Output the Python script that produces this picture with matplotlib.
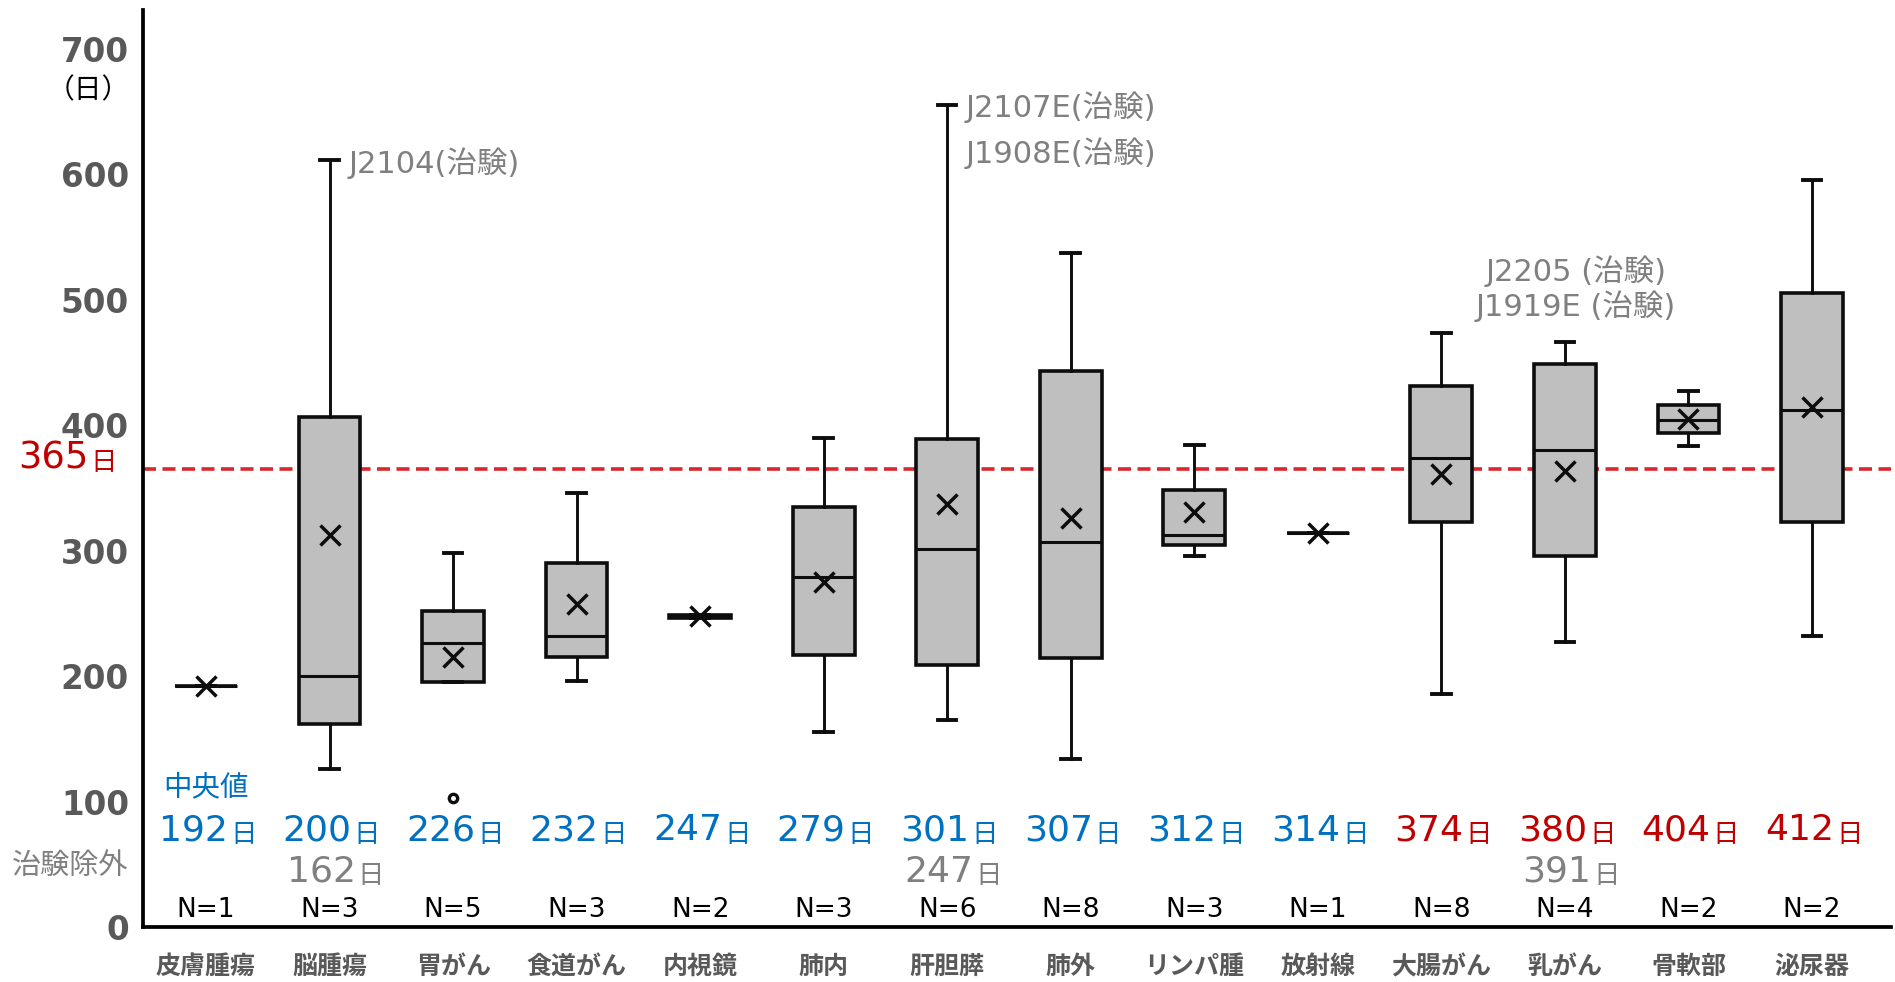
import matplotlib.pyplot as plt

plt.rcParams['font.family'] = ['DejaVu Sans', 'Noto Sans CJK JP']

categories = ['皮膚腫瘍', '脳腫瘍', '胃がん', '食道がん', '内視鏡', '肺内', '肝胆膵',
              '肺外', 'リンパ腫', '放射線', '大腸がん', '乳がん', '骨軟部', '泌尿器']
n_cases = [1, 3, 5, 3, 2, 3, 6, 8, 3, 1, 8, 4, 2, 2]
medians = [192, 200, 226, 232, 247, 279, 301, 307, 312, 314, 374, 380, 404, 412]
q1 = [192, 162, 195, 215, 246, 217, 209, 214, 304, 314, 323, 296, 394, 323]
q3 = [192, 406, 252, 290, 249, 335, 389, 443, 348, 314, 431, 449, 416, 505]
whislo = [192, 126, 195, 196, 246, 155, 165, 134, 296, 314, 186, 227, 383, 232]
whishi = [192, 611, 298, 346, 249, 390, 655, 537, 384, 314, 473, 466, 427, 595]
means = [192, 312, 215, 257, 248, 275, 337, 326, 331, 314, 361, 363, 405, 414]
fliers = [[], [], [103], [], [], [], [], [], [], [], [], [], [], []]
# median without clinical-trial patients
excl_medians = [None, 162, None, None, None, None, 247, None, None, None, None, 391, None, None]
target_days = 365

# trial notes: (box index, lines)
notes = [(1, ['J2104(治験)']),
         (6, ['J2107E(治験)', 'J1908E(治験)']),
         (11, ['J2205 (治験)', 'J1919E (治験)'])]

BLUE = '#0070c0'
RED = '#c00000'
GRAY = '#808080'
DARK = '#595959'
EDGE = '#0d0d0d'
JP = ['Noto Sans CJK JP']

W, H = 1895, 982
fig = plt.figure(figsize=(W / 100, H / 100), dpi=100)
ax = fig.add_axes([143 / W, 1 - 927 / H, (1891 - 143) / W, (927 - 10) / H])

positions = list(range(1, len(categories) + 1))
stats = []
for i in range(len(categories)):
    stats.append(dict(med=medians[i], q1=q1[i], q3=q3[i], whislo=whislo[i],
                      whishi=whishi[i], mean=means[i], fliers=fliers[i],
                      label=categories[i]))

ax.bxp(stats, positions=positions, widths=0.5, capwidths=0.15,
       showmeans=True, patch_artist=True,
       boxprops=dict(facecolor='#bfbfbf', edgecolor=EDGE, linewidth=2.6),
       whiskerprops=dict(color=EDGE, linewidth=2.1),
       capprops=dict(color=EDGE, linewidth=2.8),
       medianprops=dict(color=EDGE, linewidth=2.2),
       meanprops=dict(marker='x', markeredgecolor=EDGE, markersize=14,
                      markeredgewidth=2.5),
       flierprops=dict(marker='o', markerfacecolor='white', markeredgecolor=EDGE,
                       markersize=6, markeredgewidth=2.4))

ax.axhline(target_days, color='#d9272e', linewidth=2.6, linestyle=(0, (3.6, 1.8)), zorder=1)

ax.set_xlim(0.49, 14.64)
ax.set_ylim(0, 730.7)
for side in ['top', 'right']:
    ax.spines[side].set_visible(False)
for side in ['left', 'bottom']:
    ax.spines[side].set_linewidth(2.7)
    ax.spines[side].set_color('black')

ax.set_yticks(range(0, 701, 100))
ax.set_yticklabels([str(v) for v in range(0, 701, 100)], fontsize=23.5,
                   fontweight='bold', color=DARK)
ax.set_xticks(positions)
ax.set_xticklabels(categories, family=JP, fontsize=18, fontweight='bold', color=DARK)
ax.tick_params(axis='y', length=0, pad=10)
ax.tick_params(axis='x', length=0, pad=20)

# 365-day label left of the axis
ytr = ax.get_yaxis_transform()
day = ax.annotate('日', xy=(0, target_days), xycoords=ytr, xytext=(-19, -1),
                  textcoords='offset points', ha='right', va='baseline',
                  fontsize=19, color=RED, family=JP)
ax.annotate(str(target_days), xy=(0, target_days), xycoords=(day, ytr),
            xytext=(-1, 0), textcoords='offset points',
            ha='right', va='baseline', fontsize=26.5, color=RED,
            annotation_clip=False)

fig.text(88 / W, 1 - 90 / H, '（日）', family=JP, fontsize=20, color='black',
         ha='center', va='center')


def day_label(x, y, value, color, dx):
    t = ax.annotate(str(value), xy=(x, y), xytext=(dx, 0), textcoords='offset points',
                    ha='center', va='baseline', fontsize=26, color=color)
    ax.annotate('日', xy=(1, y), xycoords=(t, 'data'), xytext=(1.5, -1),
                textcoords='offset points', ha='left', va='baseline',
                fontsize=19, color=color, family=JP)


for i, pos in enumerate(positions):
    day_label(pos, 69, medians[i], BLUE if medians[i] < target_days else RED, -9)
    if excl_medians[i] is not None:
        day_label(pos, 36, excl_medians[i], GRAY, -6)
    ax.text(pos, 8, f'N={n_cases[i]}', ha='center', va='baseline',
            fontsize=19, color='black')

ax.text(positions[0], 111, '中央値', ha='center', va='center', family=JP,
        fontsize=20.5, color=BLUE)
fig.text(70 / W, 1 - 866 / H, '治験除外', ha='center', va='center', family=JP,
         fontsize=21, color=GRAY)

# trial notes beside the long upper whiskers
for idx, lines in notes:
    if idx == 11:
        ax.text(positions[idx] + 0.09, 523, lines[0], ha='center', va='center',
                fontsize=22, color=GRAY)
        ax.text(positions[idx] + 0.09, 495, lines[1], ha='center', va='center',
                fontsize=22, color=GRAY)
    else:
        for k, line in enumerate(lines):
            ax.text(positions[idx] + 0.15, whishi[idx] - 2 - k * 36, line,
                    ha='left', va='center', fontsize=22, color=GRAY)

fig.savefig('out.png', dpi=100)
